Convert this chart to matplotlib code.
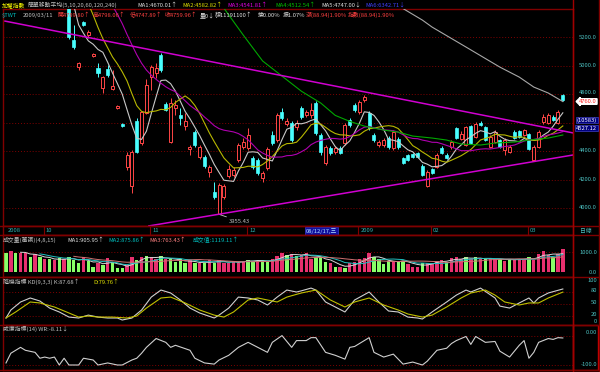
import numpy as np
import pandas as pd
import matplotlib
matplotlib.use("Agg")
import matplotlib.pyplot as plt
from matplotlib.lines import Line2D
from matplotlib.patches import Rectangle

plt.rcParams['font.family'] = ['Noto Sans CJK TC', 'DejaVu Sans']

# daily candles, 2008/09/18 .. 2009/03/11
opens = [5760, 5730, 5880, 5860, 5870, 5930, 5830, 5840, 5790, 5880, 5680, 5660, 5480,
         5450, 5179, 4989, 5305, 5214, 5067, 4982, 4842, 4975, 4835, 4702, 4589, 4288, 4154,
         4611, 4456, 4667, 4919, 4947, 5074, 4730, 4463, 4702, 4653, 4575, 4414, 4533, 4358,
         4358, 4253, 4112, 3958, 4077, 4225, 4232, 4337, 4428, 4421, 4351, 4337, 4211, 4281,
         4512, 4477, 4674, 4589, 4596, 4568, 4702, 4653, 4653, 4737, 4512, 4316, 4421, 4393,
         4421, 4456, 4618, 4723, 4674, 4758, 4667, 4512, 4442, 4442, 4491, 4421, 4484, 4351,
         4372, 4379, 4386, 4295, 4154, 4274, 4288, 4421, 4372, 4428, 4561, 4484, 4442, 4575,
         4498, 4596, 4568, 4428, 4463, 4477, 4407, 4393, 4533, 4540, 4512, 4519, 4337, 4428,
         4604, 4596, 4639, 4596, 4789.80]
highs = [5790, 5830, 5910, 5950, 5930, 5950, 5890, 5860, 5900, 5910, 5740, 5690, 5560,
         5480, 5284, 5025, 5312, 5249, 5088, 5018, 4926, 5004, 4968, 4723, 4596, 4393, 4407,
         4632, 4681, 4905, 5004, 5018, 5088, 4744, 4772, 4758, 4702, 4667, 4442, 4547, 4442,
         4372, 4302, 4182, 4175, 4168, 4302, 4288, 4456, 4491, 4561, 4365, 4351, 4260, 4428,
         4540, 4667, 4702, 4632, 4611, 4618, 4716, 4688, 4737, 4751, 4526, 4442, 4435, 4435,
         4435, 4596, 4632, 4737, 4758, 4793, 4681, 4526, 4477, 4491, 4505, 4547, 4498, 4358,
         4379, 4386, 4393, 4309, 4267, 4281, 4386, 4435, 4386, 4477, 4568, 4540, 4575, 4582,
         4604, 4611, 4575, 4512, 4547, 4484, 4491, 4442, 4547, 4547, 4554, 4526, 4442, 4547,
         4660, 4667, 4653, 4688, 4798.06]
lows = [5690, 5710, 5820, 5840, 5840, 5860, 5800, 5750, 5770, 5790, 5640, 5560, 5440,
        5185, 5116, 4968, 5277, 5193, 5060, 4919, 4807, 4919, 4828, 4695, 4568, 4267, 4105,
        4386, 4442, 4660, 4828, 4912, 4954, 4681, 4456, 4653, 4582, 4547, 4372, 4428, 4344,
        4281, 4218, 4063, 3955.43, 4063, 4211, 4218, 4323, 4414, 4407, 4274, 4232, 4182, 4267,
        4442, 4463, 4618, 4575, 4463, 4547, 4625, 4639, 4632, 4512, 4372, 4302, 4372, 4379,
        4379, 4442, 4568, 4674, 4660, 4744, 4547, 4463, 4428, 4428, 4414, 4407, 4414, 4309,
        4330, 4351, 4351, 4225, 4147, 4239, 4281, 4379, 4344, 4414, 4484, 4477, 4435, 4449,
        4491, 4575, 4470, 4421, 4456, 4421, 4372, 4386, 4484, 4491, 4505, 4407, 4330, 4421,
        4589, 4589, 4611, 4589, 4747.89]
closes = [5720, 5800, 5860, 5900, 5880, 5900, 5850, 5780, 5870, 5820, 5700, 5580, 5500,
          5200, 5130, 5018, 5284, 5235, 5081, 4947, 4919, 4933, 4856, 4716, 4575, 4372, 4393,
          4393, 4674, 4863, 4989, 4982, 4968, 4688, 4737, 4723, 4632, 4611, 4428, 4442, 4428,
          4295, 4288, 4077, 4161, 4154, 4274, 4267, 4442, 4463, 4512, 4288, 4246, 4246, 4414,
          4456, 4653, 4632, 4611, 4477, 4596, 4639, 4674, 4688, 4526, 4393, 4428, 4386, 4421,
          4386, 4582, 4582, 4688, 4744, 4779, 4561, 4477, 4463, 4477, 4428, 4533, 4428, 4316,
          4337, 4358, 4358, 4232, 4253, 4246, 4372, 4386, 4351, 4463, 4491, 4519, 4568, 4456,
          4589, 4582, 4477, 4498, 4533, 4428, 4477, 4428, 4491, 4498, 4547, 4414, 4428, 4533,
          4639, 4653, 4618, 4671.02, 4759.96]

# volume (萬張) and up/down flag of each volume bar
volumes = [951, 1033, 951, 951, 920, 727, 888, 727, 630, 630, 597, 679, 630, 727, 597, 436,
           727, 565, 274, 468, 355, 679, 436, 193, 193, 355, 727, 597, 727, 791, 727, 630,
           791, 630, 630, 516, 630, 436, 597, 436, 436, 468, 597, 468, 597, 468, 436, 565,
           468, 565, 597, 565, 565, 565, 500, 630, 791, 920, 839, 888, 791,
           839, 951, 630, 727, 727, 516, 436, 274, 274, 193, 468, 516, 630, 679, 951, 727,
           630, 404, 565, 565, 516, 565, 404, 274, 274, 436, 436, 468, 565, 597, 516, 679,
           727, 630, 759, 630, 727, 630, 630, 679, 630, 630, 565, 630, 630, 630, 630, 759,
           597, 888, 1051, 839, 759, 888, 1116]
vol_up = [0, 1, 0, 1, 1, 0, 1, 0, 1, 0, 1, 0, 1, 0, 0, 0, 1, 0, 0, 1,
          0, 1, 0, 0, 0, 1, 1, 0, 1, 0, 1, 1, 0, 1, 0, 0, 0, 0, 1, 0,
          1, 0, 1, 0, 1, 1, 1, 1, 1, 1, 0, 0, 1, 0, 0, 1, 1, 1, 0, 1, 0,
          1, 1, 1, 0, 0, 0, 1, 0, 1, 0, 1, 1, 1, 1, 1, 0, 0, 0, 0, 1,
          0, 0, 1, 1, 1, 0, 1, 1, 1, 1, 0, 1, 1, 1, 0, 1, 0, 1, 0, 1,
          1, 0, 1, 0, 1, 1, 1, 0, 1, 1, 1, 1, 0, 1, 1]

# long moving averages
ma60_idx = [44, 49, 53, 57, 61, 65, 68, 71, 74, 78, 81, 84, 88, 91, 94, 98, 101, 105, 108, 112, 115]
ma60_val = [5450, 5214, 5032, 4926, 4820, 4737, 4650, 4608, 4575, 4547, 4533, 4505, 4491,
            4477, 4449, 4442, 4456, 4463, 4477, 4491, 4512.54]
ma120_idx = [82, 86, 88, 95, 102, 106, 109, 112, 115]
ma120_val = [5400, 5319, 5270, 5130, 4989, 4919, 4849, 4807, 4747]

# trend lines
upper_x = [-0.2, 117.1]
upper_y = [5312, 4527.12]
lower_x = [29.5, 117.1]
lower_y = [3874, 4372]

# KD(9,3,3)
k_idx = [0, 1, 3, 5, 7, 9, 11, 13, 15, 17, 19, 21, 23, 24, 26, 28, 30, 32, 34, 36, 38, 40, 43, 44,
         46, 48, 50, 52, 54, 56, 58, 60, 61, 63, 64, 66, 70, 72, 75, 77, 79, 81, 83, 85, 86, 88,
         91, 93, 95, 96, 98, 101, 102, 104, 106, 108, 109, 110, 112, 115]
k_val = [13.6, 34, 54.5, 64.7, 57, 39, 29, 16, 13.6, 21, 16, 13.6, 13.6, 8.5, 13.6, 34, 67, 85,
         77.5, 59.6, 39, 26.4, 13.6, 21, 39, 67, 64.7, 59.6, 46.8, 67, 85, 80, 83, 90, 85, 54.5,
         29, 59.6, 80, 54.5, 31.5, 29, 16, 13.6, 11, 29, 54.5, 72, 85, 80, 90, 64.7, 44, 39, 52,
         64.7, 52, 64.7, 77.5, 87.68]
d_idx = [0, 2, 5, 7, 10, 13, 15, 17, 19, 22, 25, 27, 29, 32, 34, 37, 40, 43, 45, 47, 50, 52, 54,
         56, 58, 61, 64, 67, 70, 72, 75, 78, 81, 83, 86, 88, 91, 94, 96, 99, 101, 103, 106, 108,
         110, 112, 115]
d_val = [13.6, 29, 54.5, 52, 41.7, 26.4, 16, 18.7, 16, 16, 13.6, 18.7, 39, 64.7, 67, 52, 34, 21,
         16, 29, 59.6, 64.7, 59.6, 54.5, 67, 77.5, 85, 59.6, 41.7, 54.5, 64.7, 46.8, 34, 23.8, 16,
         21, 41.7, 64.7, 77.5, 85, 72, 54.5, 46.8, 52, 52, 64.7, 79.76]

# Williams %R(14)
wr_idx = [0, 1, 3, 4, 6, 7, 8, 9, 10, 11, 12, 13, 15, 16, 18, 19, 21, 23, 24, 26, 27, 28, 29, 31,
          33, 34, 35, 38, 39, 41, 43, 44, 46, 48, 50, 52, 54, 55, 57, 59, 60, 62, 63, 64, 66, 68,
          70, 71, 72, 74, 75, 76, 78, 80, 82, 84, 86, 87, 89, 91, 92, 93, 95, 96, 97, 99, 101,
          102, 104, 106, 107, 108, 109, 110, 112, 113, 114, 115]
wr_val = [-93, -60, -40, -50, -57, -77, -73, -77, -73, -100, -77, -100, -100, -77, -83, -100, -93,
          -100, -100, -83, -77, -60, -40, -10, -23, -40, -33, -50, -77, -93, -97, -83, -67, -40,
          -23, -40, -57, -23, 0, -40, -17, -17, -7, -7, -57, -67, -80, -40, -37, -17, -7, -57, -73,
          -63, -97, -90, -100, -87, -50, -43, -27, -17, -3, -30, -3, -23, -20, -53, -73, -33, -17,
          -77, -57, -23, -10, -13, -7, -8.11]

# month starts on the date strip
month_idx = [8, 30, 50, 73, 88, 108]
month_lab = ['10', '11', '12', '2009', '02', '03']

price_ticks = [5200, 5000, 4800, 4400, 4200, 4000]

W, H = 600, 372
DARKRED = '#800000'
LAB = '#4cc0c0'
FS = 4.2

n = len(closes)
x = np.arange(n)
cl = pd.Series(closes)
ma5 = cl.rolling(5).mean()
ma10 = cl.rolling(10).mean()
ma20 = cl.rolling(20).mean()
vs = pd.Series(volumes)

fig = plt.figure(figsize=(6, 3.72), dpi=100)
fig.patch.set_facecolor('black')


def fx(px):
    return px / W


def fy(py):
    return 1 - py / H


def panel(top, bottom, ylim):
    ax = fig.add_axes([fx(3), fy(bottom), fx(570), (bottom - top) / H])
    ax.set_facecolor('black')
    ax.set_xlim(-0.62, 117.1)
    ax.set_ylim(*ylim)
    ax.set_xticks([])
    ax.set_yticks([])
    for s in ax.spines.values():
        s.set_color(DARKRED)
        s.set_linewidth(1)
    return ax


def hgrid(ax, vals):
    for v in vals:
        ax.axhline(v, color=DARKRED, lw=0.7, ls=(0, (1, 2)), zorder=0)


def ftext(px, py, s, color, ha='left', **kw):
    fig.text(fx(px), fy(py), s, color=color, fontsize=FS, ha=ha, va='center', **kw)


# ---- price panel
ax = panel(9, 226, (3873.6, 5397))
hgrid(ax, [5200, 5000, 4800, 4600, 4400, 4200, 4000])
up = np.array(closes) >= np.array(opens)
ccol = np.where(up, '#ff4646', '#48ffff')
ax.vlines(x, lows, highs, colors=ccol, lw=0.7, zorder=2)
body_lo = np.minimum(opens, closes)
body_h = np.maximum(np.abs(np.array(closes) - np.array(opens)), 1.5)
ax.bar(x[up], body_h[up], bottom=body_lo[up], width=0.62, facecolor='black',
       edgecolor='#ff4646', lw=0.7, zorder=3)
ax.bar(x[~up], body_h[~up], bottom=body_lo[~up], width=0.62, color='#48ffff',
       edgecolor='#48ffff', lw=0.5, zorder=3)
ax.plot(x, ma5, color='#c8c8c8', lw=0.8, zorder=4)
ax.plot(x, ma10, color='#b8b800', lw=0.8, zorder=4)
ax.plot(x, ma20, color='#b000b0', lw=0.8, zorder=4)
ax.plot(ma60_idx, ma60_val, color='#00a800', lw=0.8, zorder=4)
ax.plot(ma120_idx, ma120_val, color='#a8a8a8', lw=0.8, zorder=4)
ax.plot(upper_x, upper_y, color='#d000d0', lw=1.1, zorder=5)
ax.plot(lower_x, lower_y, color='#d000d0', lw=1.1, zorder=5)
low_i = int(np.argmin(lows))
ax.annotate(f'{lows[low_i]:.2f}', xy=(low_i, lows[low_i]), xytext=(low_i + 2.1, 3906),
            color='#c0c0c0', fontsize=FS, va='center',
            arrowprops=dict(arrowstyle='-', color='#c0c0c0', lw=0.6, shrinkA=0, shrinkB=0))

# ---- date strip
axd = panel(226, 235, (0, 1))
for m, lab in zip(month_idx, month_lab):
    axd.axvline(m - 0.2, color=DARKRED, lw=0.8)
    axd.text(m + 0.2, 0.45, lab, color='#30b0b0', fontsize=FS, va='center')
axd.text(0.3, 0.45, '2008', color='#30b0b0', fontsize=FS, va='center')
axd.text(62, 0.45, '08/12/17,三', color='#b0e0ff', fontsize=FS, va='center',
         bbox=dict(boxstyle='square,pad=0.15', fc='#1010a0', ec='#3030c0', lw=0.6))

# ---- volume panel
axv = panel(235, 277, (-228, 1809))
hgrid(axv, [1000])
vcol = ['#e8306e' if u else '#88ff68' for u in vol_up]
axv.bar(x, volumes, width=0.7, color=vcol, zorder=2)
axv.plot(x, vs.rolling(4).mean(), color='#d8d8d8', lw=0.7, zorder=3)
axv.plot(x, vs.rolling(8).mean(), color='#20c0c0', lw=0.7, zorder=3)
axv.plot(x, vs.rolling(15).mean(), color='#d07070', lw=0.7, zorder=3)

# ---- KD panel
axk = panel(277, 325, (-4.25, 118.3))
hgrid(axk, [80, 50, 20])
axk.plot(k_idx, k_val, color='#d0d0d0', lw=0.8)
axk.plot(d_idx, d_val, color='#c0c000', lw=0.8)

# ---- WR panel
axw = panel(325, 370, (-117, 36))
hgrid(axw, [0, -100])
axw.plot(wr_idx, wr_val, color='#d0d0d0', lw=0.8)

# frame lines
for yy in [226, 235, 277, 325, 370]:
    fig.add_artist(Line2D([0, 1], [fy(yy), fy(yy)], color=DARKRED, lw=1))
fig.add_artist(Line2D([fx(573), fx(573)], [0, 1], color='#a00000', lw=1))
fig.add_artist(Line2D([fx(598.5), fx(598.5)], [0, 1], color=DARKRED, lw=1))
fig.add_artist(Rectangle((fx(573), fy(370)), fx(25), 45 / H, fill=False, ec='#d00000', lw=1))

# right axis labels
for p in price_ticks:
    py = 94 + (4800 - p) / 7.018
    if p == 4800:
        py -= 1.5
    ftext(597, py, f'{p:.1f}', LAB, ha='right')
ftext(579, 101.5, '4760.0', '#ff2020', bbox=dict(boxstyle='larrow,pad=0.05', fc='white', ec='white'))
ftext(597, 120, '(10583)', 'white', ha='right',
      bbox=dict(boxstyle='square,pad=0.1', fc='#000080', ec='#4040c0', lw=0.5))
ftext(597, 128, '4527.12', 'white', ha='right',
      bbox=dict(boxstyle='square,pad=0.1', fc='#000080', ec='#4040c0', lw=0.5))
ftext(597, 252, '1000.0', LAB, ha='right')
ftext(597, 272, '0.0', LAB, ha='right')
for v, py in [(100, 281), (80, 290), (50, 303), (20, 314), (0, 321.5)]:
    ftext(597, py, str(v), LAB, ha='right')
ftext(597, 333, '0.00', LAB, ha='right')
ftext(597, 364, '-100.0', LAB, ha='right')
ftext(580, 231, '日線', LAB)

# header line 1
for px, s, col in [(2, '加權指數', '#ffff00'),
                   (28, '簡單移動平均(5,10,20,60,120,240)', '#c0c0c0'),
                   (137, 'MA1:4670.01↑', '#e0e0e0'),
                   (182, 'MA2:4582.82↑', '#e0e000'),
                   (227, 'MA3:4541.81↑', '#e000e0'),
                   (275, 'MA4:4512.54↑', '#00c000'),
                   (321, 'MA5:4747.00↓', '#e0e0e0'),
                   (365, 'MA6:6342.71↓', '#4040ff')]:
    ftext(px, 5, s, col)
# header line 2
for px, s, col in [(2, '$TWT', '#00c0c0'),
                   (23, '2009/03/11', '#c0c0c0'),
                   (57, '開4789.80↑', '#ff4040'),
                   (93, '高4798.06↑', '#ff4040'),
                   (130, '低4747.89↑', '#ff4040'),
                   (165, '收4759.96↑', '#ff4040'),
                   (200, '量0↓', '#e0e0e0'),
                   (215, '額11191100↑', '#e0e0e0'),
                   (258, '換0.00%', '#e0e0e0'),
                   (283, '振1.07%', '#e0e0e0'),
                   (306, '漲(88.94)1.90%', '#ff4040'),
                   (348, '指數(88.94)1.90%', '#ff4040')]:
    ftext(px, 15, s, col)

# panel titles
for px, py, s, col in [(3, 240, '成交量(萬張)(4,8,15)', '#c0c0c0'),
                       (67, 240, 'MA1:905.95↑', '#e0e0e0'),
                       (108, 240, 'MA2:875.86↑', '#00c0c0'),
                       (149, 240, 'MA3:763.43↑', '#ff8080'),
                       (193, 240, '成交值:1119.11↑', '#00c0c0'),
                       (3, 282, '隨機指標 KD(9,3,3) K:87.68↑', '#c0c0c0'),
                       (93, 282, 'D:79.76↑', '#e0e000'),
                       (3, 329, '威廉指標(14) WR:-8.11↓', '#c0c0c0')]:
    ftext(px, py, s, col)

fig.savefig('out.png', dpi=100, facecolor='black')
